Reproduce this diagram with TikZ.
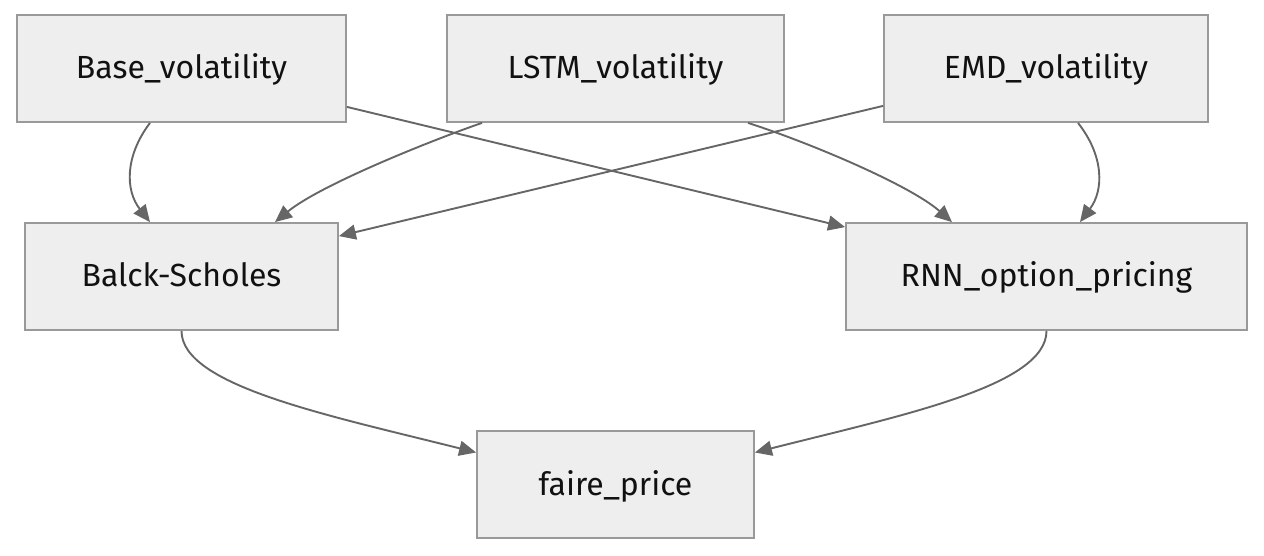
\documentclass[tikz,border=0pt]{standalone}
\usepackage{fontspec}
\setmainfont{Fira Sans}
\usetikzlibrary{arrows.meta,calc}
\definecolor{boxfill}{HTML}{EEEEEE}
\definecolor{boxline}{HTML}{999999}
\definecolor{edgecol}{HTML}{666666}
\definecolor{txt}{HTML}{111111}
\begin{document}
\begin{tikzpicture}[x=1pt,y=-1pt,
  box/.style={draw=boxline,fill=boxfill,line width=1.8pt,inner sep=0pt,
    text=txt,font=\fontsize{32}{36}\selectfont,text height=24pt,text depth=3pt},
  edge/.style={draw=edgecol,line width=1.9pt,
    -{Triangle[length=17pt,width=15pt]}}]
\useasboundingbox (0,0) rectangle (1264,556);
\node[box,minimum width=329pt,minimum height=107pt] (base) at (181.5,68.5) {Base\_volatility};
\node[box,minimum width=337pt,minimum height=107pt] (lstm) at (615.5,68.5) {LSTM\_volatility};
\node[box,minimum width=324pt,minimum height=107pt] (emd) at (1046,68.5) {EMD\_volatility};
\node[box,minimum width=313pt,minimum height=107pt] (bs) at (181.5,276.5) {Balck-Scholes};
\node[box,minimum width=401pt,minimum height=107pt] (rnn) at (1046.5,276.5) {RNN\_option\_pricing};
\node[box,minimum width=277pt,minimum height=107pt] (fp) at (615.5,484.5) {faire\_price};
% edges
\draw[edge] ([xshift=-31.5pt]base.south) .. controls ($([xshift=-31.5pt]base.south)+(-25,33)$) and ($([xshift=-31.5pt]bs.north)+(-25,-32)$) .. ([xshift=-31.5pt]bs.north);
\draw[edge] ([yshift=16pt]base.south east) -- ([yshift=-5pt]rnn.north west);
\draw[edge] ([xshift=-133.5pt]lstm.south) .. controls ($([xshift=-133.5pt]lstm.south)+(-52,18)$) and ($([xshift=93.5pt]bs.north)+(45,-37)$) .. ([xshift=93.5pt]bs.north);
\draw[edge] ([xshift=132.5pt]lstm.south) .. controls ($([xshift=132.5pt]lstm.south)+(62,20)$) and ($([xshift=-94.5pt]rnn.north)+(-42,-37)$) .. ([xshift=-94.5pt]rnn.north);
\draw[edge] ([yshift=17pt]emd.south west) -- ([yshift=-14pt]bs.north east);
\draw[edge] ([xshift=32pt]emd.south) .. controls ($([xshift=32pt]emd.south)+(26,33)$) and ($([xshift=33.5pt]rnn.north)+(24,-32)$) .. ([xshift=33.5pt]rnn.north);
\draw[edge] (bs.south) .. controls ($(bs.south)+(0,55)$) and ($(fp.west)+(-147,-69)$) .. ([yshift=32pt]fp.west);
\draw[edge] (rnn.south) .. controls ($(rnn.south)+(0,55)$) and ($(fp.east)+(146,-69)$) .. ([yshift=32pt]fp.east);
\end{tikzpicture}
\end{document}
